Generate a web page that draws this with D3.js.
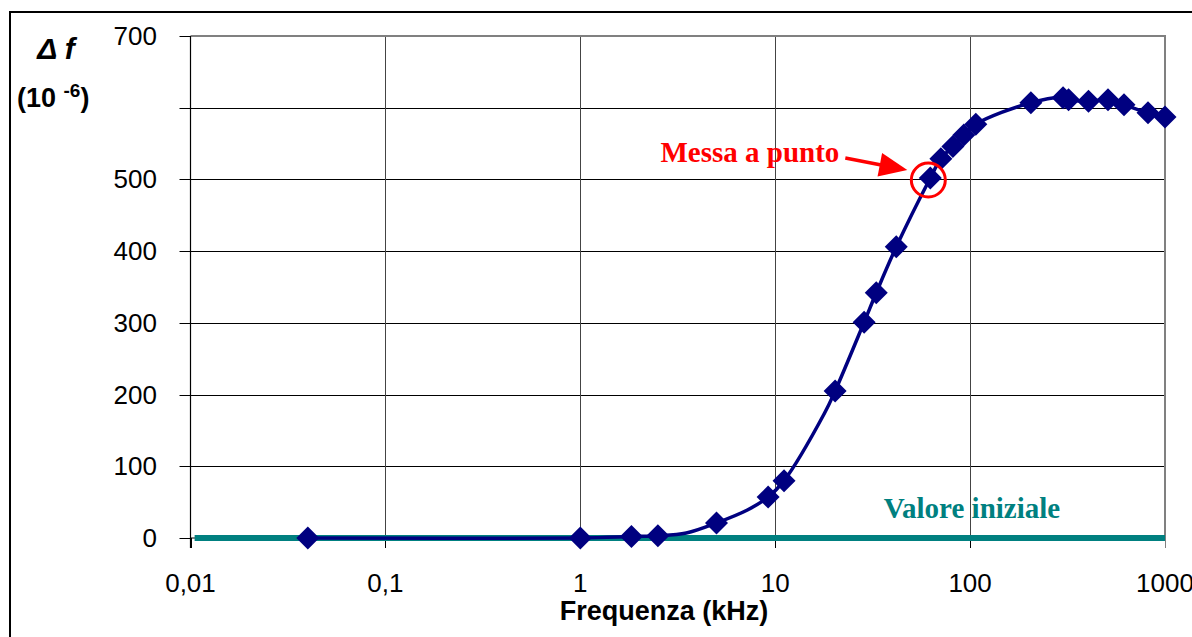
<!DOCTYPE html>
<html>
<head>
<meta charset="utf-8">
<script src="https://cdn.jsdelivr.net/npm/d3@7"></script>
<style>
  body { margin: 0; background: #fff; }
  text { font-family: "Liberation Sans", Arial, sans-serif; }
</style>
</head>
<body>
<div id="chart"></div>
<script>
// markers (kHz, delta f in 1e-6)
var freqMarkers  = [0.04, 1, 1.83, 2.5, 5, 9.2, 11.1, 20.3, 28.6, 33, 41.8, 62.5, 70.8, 81.6, 92.9, 107, 205, 300, 320, 405, 510, 616, 818, 1000];
var deltaMarkers = [0, 0, 2, 3, 21, 57, 80, 205, 301, 342, 406, 502, 529, 546, 562, 577, 607, 614, 611, 609, 611, 604, 593, 587];

// smoothed line
var freqLine  = [0.04, 1, 1.83, 2.5, 3.5, 5, 7.2, 9.2, 11.1, 17.9, 20.3, 28.6, 33, 41.8, 62.5, 70.8, 81.6, 92.9, 107, 205, 300, 320, 405, 510, 616, 818, 1000];
var deltaLine = [0, 0, 2, 3, 7, 21, 39, 57, 80, 174, 205, 301, 342, 406, 502, 529, 546, 562, 577, 607, 614, 611, 609, 611, 604, 593, 587];

// initial value
var freqInit  = [0.0105, 1000];
var deltaInit = [0, 0];

var xTicks = [0.01, 0.1, 1, 10, 100, 1000];
var xTickLabels = ["0,01", "0,1", "1", "10", "100", "1000"];
var yTicks = [0, 100, 200, 300, 400, 500, 600, 700];
var yTickLabels = ["0", "100", "200", "300", "400", "500", "", "700"];

var W = 1192, H = 637;
var pLeft = 190.5, pRight = 1165, pTop = 36, pBottom = 538;

var svg = d3.select("#chart")
    .append("svg")
    .attr("width", W)
    .attr("height", H)

// outer frame
svg.append("rect")
    .attr("x", 10).attr("y", 12)
    .attr("width", W).attr("height", H)
    .style("fill", "none")
    .style("stroke", "black")
    .style("stroke-width", 2)

var x = d3.scaleLog().domain([0.01, 1000]).range([pLeft, pRight]);
var y = d3.scaleLinear().domain([0, 700]).range([pBottom, pTop]);

// grid
svg.selectAll(".hgrid")
    .data(yTicks.slice(1, 7))
    .enter()
    .append("line")
    .attr("x1", pLeft).attr("x2", pRight)
    .attr("y1", function(d){ return Math.round(y(d)) + 0.5 })
    .attr("y2", function(d){ return Math.round(y(d)) + 0.5 })
    .style("stroke", "#000")
    .style("stroke-width", 1)

svg.selectAll(".vgrid")
    .data(xTicks.slice(1, 5))
    .enter()
    .append("line")
    .attr("x1", function(d){ return Math.round(x(d)) + 0.5 })
    .attr("x2", function(d){ return Math.round(x(d)) + 0.5 })
    .attr("y1", pTop).attr("y2", pBottom)
    .style("stroke", "#444")
    .style("stroke-width", 1)

// plot border top/right (gray)
svg.append("path")
    .attr("d", "M" + pLeft + "," + pTop + "H" + pRight + "V" + pBottom)
    .style("fill", "none")
    .style("stroke", "#808080")
    .style("stroke-width", 2)

// y axis
svg.append("line")
    .attr("x1", pLeft).attr("x2", pLeft)
    .attr("y1", pTop).attr("y2", pBottom + 10)
    .style("stroke", "#000")
    .style("stroke-width", 1.2)

svg.selectAll(".ytick")
    .data(yTicks)
    .enter()
    .append("line")
    .attr("x1", pLeft - 11).attr("x2", pLeft)
    .attr("y1", function(d){ return Math.round(y(d)) + 0.5 })
    .attr("y2", function(d){ return Math.round(y(d)) + 0.5 })
    .style("stroke", "#000")

svg.selectAll(".ylab")
    .data(yTicks)
    .enter()
    .append("text")
    .attr("x", 157)
    .attr("y", function(d){ return y(d) + 9 })
    .attr("text-anchor", "end")
    .style("font-size", "26px")
    .text(function(d, i){ return yTickLabels[i] })

// x axis
svg.append("line")
    .attr("x1", pLeft).attr("x2", pRight)
    .attr("y1", pBottom).attr("y2", pBottom)
    .style("stroke", "#000")

svg.selectAll(".xtick")
    .data(xTicks)
    .enter()
    .append("line")
    .attr("x1", function(d){ return Math.round(x(d)) + 0.5 })
    .attr("x2", function(d){ return Math.round(x(d)) + 0.5 })
    .attr("y1", pBottom).attr("y2", pBottom + 10)
    .style("stroke", function(d, i){ return i == 5 ? "#808080" : "#000" })

svg.selectAll(".xlab")
    .data(xTicks)
    .enter()
    .append("text")
    .attr("x", function(d){ return x(d) })
    .attr("y", 592)
    .attr("text-anchor", "middle")
    .style("font-size", "26px")
    .text(function(d, i){ return xTickLabels[i] })

svg.append("text")
    .attr("x", 664).attr("y", 620)
    .attr("text-anchor", "middle")
    .style("font-size", "27px")
    .style("font-weight", "bold")
    .text("Frequenza (kHz)")

// y title
svg.append("text")
    .attr("x", 56).attr("y", 59)
    .attr("text-anchor", "middle")
    .style("font-size", "30px")
    .style("font-weight", "bold")
    .style("font-style", "italic")
    .text("\u0394 f")

var unit = svg.append("text")
    .attr("x", 17).attr("y", 107)
    .style("font-size", "27px")
    .style("font-weight", "bold")
unit.append("tspan").text("(10 ")
unit.append("tspan").attr("dy", -10).style("font-size", "19px").text("-6")
unit.append("tspan").attr("dy", 10).text(")")

// initial value line
var initData = freqInit.map(function(f, i){ return [f, deltaInit[i]] });
svg.append("path")
    .datum(initData)
    .attr("d", d3.line().x(function(d){ return x(d[0]) }).y(function(d){ return y(d[1]) }))
    .style("stroke", "#008080")
    .style("stroke-width", 6)
    .style("fill", "none")

// curve
var lineData = freqLine.map(function(f, i){ return [f, deltaLine[i]] });
svg.append("path")
    .datum(lineData)
    .attr("d", d3.line()
        .curve(d3.curveCatmullRom.alpha(0.5))
        .x(function(d){ return x(d[0]) })
        .y(function(d){ return y(d[1]) }))
    .style("stroke", "#000080")
    .style("stroke-width", 3.5)
    .style("fill", "none")

// markers
var markData = freqMarkers.map(function(f, i){ return [f, deltaMarkers[i]] });
svg.selectAll(".mark")
    .data(markData)
    .enter()
    .append("path")
    .attr("d", "M0,-11.5L11.5,0L0,11.5L-11.5,0Z")
    .attr("transform", function(d){ return "translate(" + x(d[0]) + "," + y(d[1]) + ")" })
    .style("fill", "#000080")

// valore iniziale label
svg.append("text")
    .attr("x", 972).attr("y", 518)
    .attr("text-anchor", "middle")
    .style("font-family", "'Liberation Serif', 'Times New Roman', serif")
    .style("font-size", "29px")
    .style("font-weight", "bold")
    .style("fill", "#008080")
    .text("Valore iniziale")

// messa a punto annotation
var px = x(62.5), py = y(502);
svg.append("circle")
    .attr("cx", px - 2).attr("cy", py + 2)
    .attr("r", 17)
    .style("fill", "none")
    .style("stroke", "#ff0000")
    .style("stroke-width", 3)

svg.append("text")
    .attr("x", px - 91).attr("y", py - 16)
    .attr("text-anchor", "end")
    .style("font-family", "'Liberation Serif', 'Times New Roman', serif")
    .style("font-size", "29px")
    .style("font-weight", "bold")
    .style("fill", "#ff0000")
    .text("Messa a punto")

var ax0 = px - 85, ay0 = py - 20, ax1 = px - 23, ay1 = py - 8;
var ang = Math.atan2(ay1 - ay0, ax1 - ax0);
svg.append("line")
    .attr("x1", ax0).attr("y1", ay0)
    .attr("x2", ax1 - 20 * Math.cos(ang)).attr("y2", ay1 - 20 * Math.sin(ang))
    .style("stroke", "#ff0000")
    .style("stroke-width", 3.5)

svg.append("path")
    .attr("d", "M0,0L-28,-12L-28,12Z")
    .attr("transform", "translate(" + ax1 + "," + ay1 + ") rotate(" + (ang * 180 / Math.PI) + ")")
    .style("fill", "#ff0000")
</script>
</body>
</html>
